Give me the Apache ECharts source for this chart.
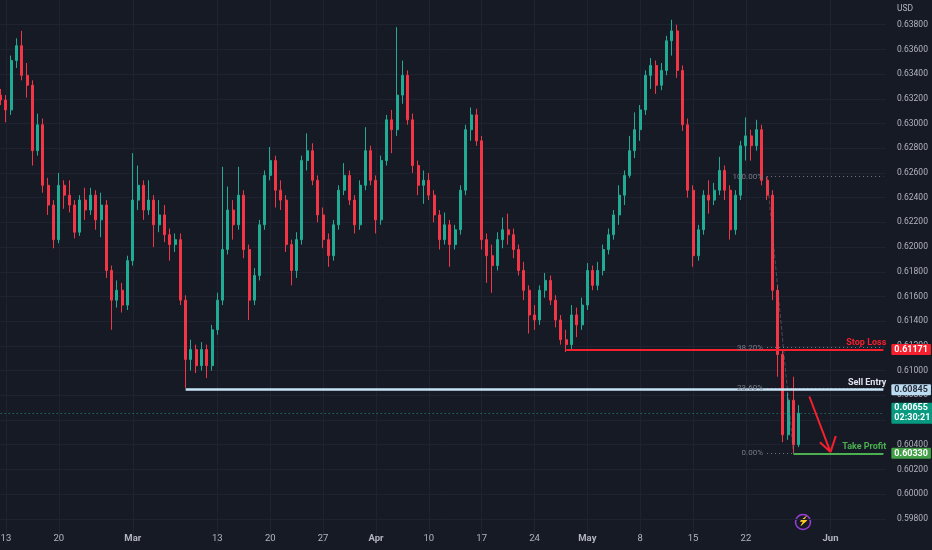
<!DOCTYPE html>
<html lang="en">
<head>
<meta charset="UTF-8">
<title>NZDUSD</title>
<style>
  html, body { margin: 0; padding: 0; background: #161a25; }
  #chart { width: 932px; height: 550px; }
</style>
</head>
<body>
<div id="chart"></div>
<script src="https://cdn.jsdelivr.net/npm/echarts@6.0.0/dist/echarts.min.js"></script>
<script>
// half-day candles, [open, close, low, high]
const ohlc = [
  [0.6323,0.6319,0.6315,0.6328],[0.6319,0.6311,0.6301,0.6323],[0.6311,0.6351,0.6307,0.6355],[0.6351,0.6363,0.6345,0.6369],
  [0.6363,0.6339,0.6335,0.6375],[0.6339,0.6331,0.6321,0.6349],[0.6331,0.6278,0.6266,0.6335],[0.6278,0.6299,0.6274,0.6308],
  [0.6299,0.6250,0.6244,0.6304],[0.6250,0.6234,0.6226,0.6256],[0.6234,0.6206,0.6199,0.6238],[0.6206,0.6250,0.6203,0.6260],
  [0.6250,0.6242,0.6231,0.6254],[0.6242,0.6234,0.6228,0.6254],[0.6234,0.6212,0.6207,0.6238],[0.6212,0.6238,0.6209,0.6242],
  [0.6238,0.6230,0.6222,0.6248],[0.6230,0.6242,0.6226,0.6248],[0.6242,0.6222,0.6214,0.6246],[0.6222,0.6234,0.6208,0.6244],
  [0.6234,0.6181,0.6175,0.6238],[0.6181,0.6157,0.6133,0.6185],[0.6157,0.6165,0.6151,0.6173],[0.6165,0.6153,0.6147,0.6171],
  [0.6153,0.6189,0.6149,0.6193],[0.6189,0.6238,0.6185,0.6276],[0.6238,0.6250,0.6230,0.6266],[0.6250,0.6230,0.6222,0.6254],
  [0.6230,0.6238,0.6226,0.6254],[0.6238,0.6218,0.6200,0.6242],[0.6218,0.6226,0.6212,0.6238],[0.6226,0.6210,0.6204,0.6234],
  [0.6210,0.6202,0.6189,0.6215],[0.6202,0.6206,0.6196,0.6211],[0.6206,0.6157,0.6153,0.6211],[0.6157,0.6109,0.6086,0.6161],
  [0.6109,0.6117,0.6100,0.6125],[0.6117,0.6104,0.6098,0.6121],[0.6104,0.6117,0.6100,0.6123],[0.6117,0.6104,0.6094,0.6121],
  [0.6104,0.6133,0.6100,0.6137],[0.6133,0.6157,0.6129,0.6163],[0.6157,0.6198,0.6153,0.6265],[0.6198,0.6230,0.6194,0.6249],
  [0.6230,0.6218,0.6206,0.6238],[0.6218,0.6242,0.6214,0.6265],[0.6242,0.6198,0.6191,0.6246],[0.6198,0.6157,0.6141,0.6202],
  [0.6157,0.6177,0.6153,0.6183],[0.6177,0.6218,0.6173,0.6222],[0.6218,0.6258,0.6214,0.6262],[0.6258,0.6270,0.6254,0.6281],
  [0.6270,0.6246,0.6232,0.6274],[0.6246,0.6238,0.6230,0.6254],[0.6238,0.6202,0.6196,0.6242],[0.6202,0.6181,0.6169,0.6206],
  [0.6181,0.6206,0.6175,0.6212],[0.6206,0.6270,0.6202,0.6274],[0.6270,0.6278,0.6262,0.6292],[0.6278,0.6254,0.6250,0.6284],
  [0.6254,0.6226,0.6220,0.6258],[0.6226,0.6206,0.6199,0.6232],[0.6206,0.6193,0.6184,0.6211],[0.6193,0.6218,0.6189,0.6222],
  [0.6218,0.6246,0.6214,0.6250],[0.6246,0.6258,0.6242,0.6268],[0.6258,0.6238,0.6234,0.6262],[0.6238,0.6218,0.6211,0.6242],
  [0.6218,0.6250,0.6214,0.6254],[0.6250,0.6278,0.6246,0.6297],[0.6278,0.6254,0.6250,0.6282],[0.6254,0.6222,0.6211,0.6258],
  [0.6222,0.6270,0.6218,0.6274],[0.6270,0.6303,0.6266,0.6307],[0.6303,0.6295,0.6276,0.6311],[0.6295,0.6323,0.6290,0.6378],
  [0.6323,0.6339,0.6316,0.6351],[0.6339,0.6303,0.6299,0.6343],[0.6303,0.6266,0.6260,0.6308],[0.6266,0.6250,0.6242,0.6270],
  [0.6250,0.6254,0.6235,0.6262],[0.6254,0.6242,0.6238,0.6260],[0.6242,0.6226,0.6220,0.6246],[0.6226,0.6206,0.6198,0.6230],
  [0.6206,0.6218,0.6202,0.6228],[0.6218,0.6202,0.6184,0.6222],[0.6202,0.6214,0.6198,0.6218],[0.6214,0.6246,0.6210,0.6250],
  [0.6246,0.6295,0.6242,0.6299],[0.6295,0.6307,0.6286,0.6313],[0.6307,0.6286,0.6282,0.6312],[0.6286,0.6206,0.6198,0.6290],
  [0.6206,0.6193,0.6171,0.6211],[0.6193,0.6185,0.6163,0.6202],[0.6185,0.6206,0.6181,0.6212],[0.6206,0.6214,0.6199,0.6224],
  [0.6214,0.6210,0.6202,0.6227],[0.6210,0.6198,0.6191,0.6215],[0.6198,0.6181,0.6177,0.6202],[0.6181,0.6165,0.6157,0.6188],
  [0.6165,0.6145,0.6130,0.6169],[0.6145,0.6141,0.6133,0.6153],[0.6141,0.6165,0.6137,0.6169],[0.6165,0.6173,0.6159,0.6179],
  [0.6173,0.6157,0.6153,0.6177],[0.6157,0.6141,0.6135,0.6161],[0.6141,0.6125,0.6121,0.6145],[0.6125,0.6121,0.6115,0.6133],
  [0.6121,0.6145,0.6117,0.6153],[0.6145,0.6137,0.6127,0.6151],[0.6137,0.6153,0.6133,0.6159],[0.6153,0.6181,0.6149,0.6187],
  [0.6181,0.6169,0.6165,0.6185],[0.6169,0.6181,0.6165,0.6188],[0.6181,0.6198,0.6177,0.6202],[0.6198,0.6210,0.6194,0.6215],
  [0.6210,0.6226,0.6206,0.6230],[0.6226,0.6242,0.6218,0.6250],[0.6242,0.6258,0.6234,0.6262],[0.6258,0.6278,0.6256,0.6290],
  [0.6278,0.6295,0.6272,0.6309],[0.6295,0.6311,0.6286,0.6315],[0.6311,0.6339,0.6307,0.6343],[0.6339,0.6347,0.6328,0.6353],
  [0.6347,0.6331,0.6324,0.6351],[0.6331,0.6343,0.6327,0.6349],[0.6343,0.6367,0.6339,0.6371],[0.6367,0.6375,0.6355,0.6384],
  [0.6375,0.6343,0.6337,0.6380],[0.6343,0.6299,0.6294,0.6347],[0.6299,0.6246,0.6240,0.6304],[0.6246,0.6193,0.6184,0.6250],
  [0.6193,0.6214,0.6189,0.6218],[0.6214,0.6242,0.6210,0.6246],[0.6242,0.6238,0.6227,0.6254],[0.6238,0.6246,0.6234,0.6252],
  [0.6246,0.6262,0.6242,0.6273],[0.6262,0.6246,0.6238,0.6266],[0.6246,0.6214,0.6206,0.6250],[0.6214,0.6242,0.6210,0.6246],
  [0.6242,0.6282,0.6238,0.6286],[0.6282,0.6290,0.6270,0.6305],[0.6290,0.6282,0.6270,0.6295],[0.6282,0.6295,0.6278,0.6303],
  [0.6295,0.6254,0.6250,0.6299],[0.6254,0.6242,0.6238,0.6257],[0.6242,0.6165,0.6157,0.6246],[0.6165,0.6113,0.6095,0.6169],
  [0.6113,0.6048,0.6042,0.6117],[0.6048,0.6076,0.6044,0.6082],[0.6076,0.6040,0.6033,0.6095],[0.6040,0.60655,0.6038,0.6072]
];

// x axis tick labels (date of the first half-day slot -> text)
const xTicks = [
  ['2023-02-13', '13'], ['2023-02-20', '20'], ['2023-03-01', 'Mar'], ['2023-03-13', '13'],
  ['2023-03-20', '20'], ['2023-03-27', '27'], ['2023-04-03', 'Apr'], ['2023-04-10', '10'],
  ['2023-04-17', '17'], ['2023-04-24', '24'], ['2023-05-01', 'May'], ['2023-05-08', '8'],
  ['2023-05-15', '15'], ['2023-05-22', '22'], ['2023-06-01', 'Jun']
];
const monthLabels = ['Mar', 'Apr', 'May', 'Jun'];

// trade plan levels
const stopLoss = 0.61171;
const sellEntry = 0.60845;
const takeProfit = 0.60330;
const lastPrice = 0.60655;
const countdown = '02:30:21';
const fibHigh = 0.6257;
const fibLow = 0.6033;
const fibRatios = [1, 0.382, 0.236, 0];
const fibNames = ['100.00%', '38.20%', '23.60%', '0.00%'];

// anchor slots for the drawings
const entryFrom = 35, stopFrom = 107, tpFrom = 150, fibFrom = 145, fibTo = 150;
const arrowFrom = [153, 0.6079], arrowTo = [157, 0.6034];
const arrowArms = [[155, 0.6042], [158, 0.6047]];

// half-day slots, weekdays only, starting at the Feb 10 afternoon
function buildSlots(startIso, count) {
  const out = [];
  const d = new Date(startIso + 'T00:00:00Z');
  let first = true;
  while (out.length < count) {
    const wd = d.getUTCDay();
    if (wd !== 0 && wd !== 6) {
      const day = d.toISOString().slice(0, 10);
      if (!first) out.push(day + ' AM');
      out.push(day + ' PM');
      first = false;
    }
    d.setUTCDate(d.getUTCDate() + 1);
  }
  return out.slice(0, count);
}
const slots = buildSlots('2023-02-10', 168);
const lastIdx = slots.length - 1;
const tickMap = new Map(xTicks.map(t => [t[0] + ' AM', t[1]]));

const font = "Roboto, 'DejaVu Sans', sans-serif";
const up = '#22ab94', down = '#f23645';
const hidden = { color: 'rgba(0,0,0,0)', width: 0 };

function hline(from, price, lineStyle, label) {
  return [{ coord: [from, price], lineStyle, label }, { coord: [lastIdx, price] }];
}
function priceBox(from, price, bg, fg, text) {
  return hline(from, price, hidden, {
    show: true, position: 'end', distance: 8, formatter: text || price.toFixed(5),
    backgroundColor: bg, color: fg, padding: [1, 3, 0, 3], borderRadius: 1,
    fontSize: 9, fontWeight: 'bold', fontFamily: font, lineHeight: 10
  });
}
function tagText(text, color) {
  return { show: true, position: 'insideEndTop', distance: 2, formatter: text,
    color, fontSize: 9, fontWeight: 'bold', fontFamily: font, offset: [5, 0] };
}

const marks = [];
// current price line
marks.push(hline(0, lastPrice, { color: up, width: 1, type: [1, 3], opacity: 0.8 }, { show: false }));
// fib levels
fibRatios.forEach((r, k) => {
  const p = fibLow + (fibHigh - fibLow) * r;
  marks.push(hline(fibFrom, p, { color: '#787b86', width: 1, type: [1, 3] }, {
    show: true, position: 'start', distance: 4, formatter: fibNames[k],
    color: '#787b86', fontSize: 8, fontFamily: font
  }));
});
marks.push([{ coord: [fibFrom, fibHigh], lineStyle: { color: '#787b86', width: 1, type: 'dashed', opacity: 0.5 }, label: { show: false } },
            { coord: [fibTo, fibLow] }]);
// trade lines
marks.push(hline(entryFrom, sellEntry, { color: '#c8e4f7', width: 2.5, type: 'solid' }, tagText('Sell Entry', '#e0e3eb')));
marks.push(hline(stopFrom, stopLoss, { color: '#f7202e', width: 2, type: 'solid' }, tagText('Stop Loss', '#f7202e')));
marks.push(hline(tpFrom, takeProfit, { color: '#4caf50', width: 2, type: 'solid' }, tagText('Take Profit', '#4caf50')));
// arrow
const arrowStyle = { color: '#f7202e', width: 2, type: 'solid' };
marks.push([{ coord: arrowFrom, lineStyle: arrowStyle, label: { show: false } }, { coord: arrowTo }]);
arrowArms.forEach(a => marks.push([{ coord: arrowTo, lineStyle: arrowStyle, label: { show: false } }, { coord: a }]));
// price boxes on the scale
marks.push(priceBox(entryFrom, sellEntry, '#bcdcf2', '#2a2e39'));
marks.push(priceBox(stopFrom, stopLoss, '#f7202e', '#ffffff'));
marks.push(priceBox(tpFrom, takeProfit, '#43a047', '#ffffff'));
marks.push(priceBox(0, lastPrice, '#089981', '#ffffff', lastPrice.toFixed(5) + '\n' + countdown));

// split line colours: hide the first and last (off-scale) lines
const ySplitColors = [];
for (let k = 0; k <= 22; k++) ySplitColors.push(k === 0 || k === 22 ? 'rgba(0,0,0,0)' : '#1f2331');

const chart = echarts.init(document.getElementById('chart'), null, { renderer: 'canvas' });
chart.setOption({
  backgroundColor: '#161a25',
  animation: false,
  textStyle: { fontFamily: font },
  grid: { left: -2, right: 46, top: 0, bottom: 6.5, outerBoundsMode: 'none', containLabel: false },
  xAxis: {
    type: 'category',
    data: slots,
    boundaryGap: true,
    axisLine: { show: false },
    axisTick: { show: false },
    axisLabel: {
      interval: (idx, val) => tickMap.has(val),
      margin: -10,
      color: '#b2b5be',
      fontSize: 9.5,
      formatter: val => {
        const t = tickMap.get(val) || '';
        return monthLabels.includes(t) ? '{b|' + t + '}' : t;
      },
      rich: { b: { fontWeight: 'bold', fontSize: 9.5, color: '#b2b5be', fontFamily: font } }
    },
    splitLine: {
      show: true,
      interval: (idx, val) => tickMap.has(val),
      alignWithLabel: true,
      lineStyle: { color: '#1f2331', width: 1 }
    }
  },
  yAxis: {
    type: 'value',
    position: 'right',
    min: 0.596,
    max: 0.640,
    interval: 0.002,
    axisLine: { show: false },
    axisTick: { show: false },
    axisLabel: {
      color: '#b2b5be',
      fontSize: 8.5,
      margin: 11,
      formatter: v => (v < 0.597 || v > 0.639) ? '' : v.toFixed(5)
    },
    splitLine: { lineStyle: { color: ySplitColors, width: 1 } }
  },
  series: [{
    type: 'candlestick',
    data: ohlc,
    barWidth: 2.6,
    clip: false,
    itemStyle: { color: up, color0: down, borderColor: up, borderColor0: down, borderWidth: 1 },
    markLine: { silent: true, symbol: ['none', 'none'], animation: false, data: marks }
  }],
  graphic: [
    { type: 'text', left: 897, top: 4, style: { text: 'USD', fill: '#b2b5be', fontSize: 8.5, fontFamily: font } },
    { type: 'circle', shape: { cx: 803, cy: 522, r: 7.5 }, style: { fill: 'none', stroke: '#9c3ddb', lineWidth: 1.5 } },
    { type: 'text', x: 803, y: 522, style: { text: '⚡', fill: '#9c3ddb', fontSize: 9, align: 'center', verticalAlign: 'middle' } }
  ]
});
</script>
</body>
</html>
